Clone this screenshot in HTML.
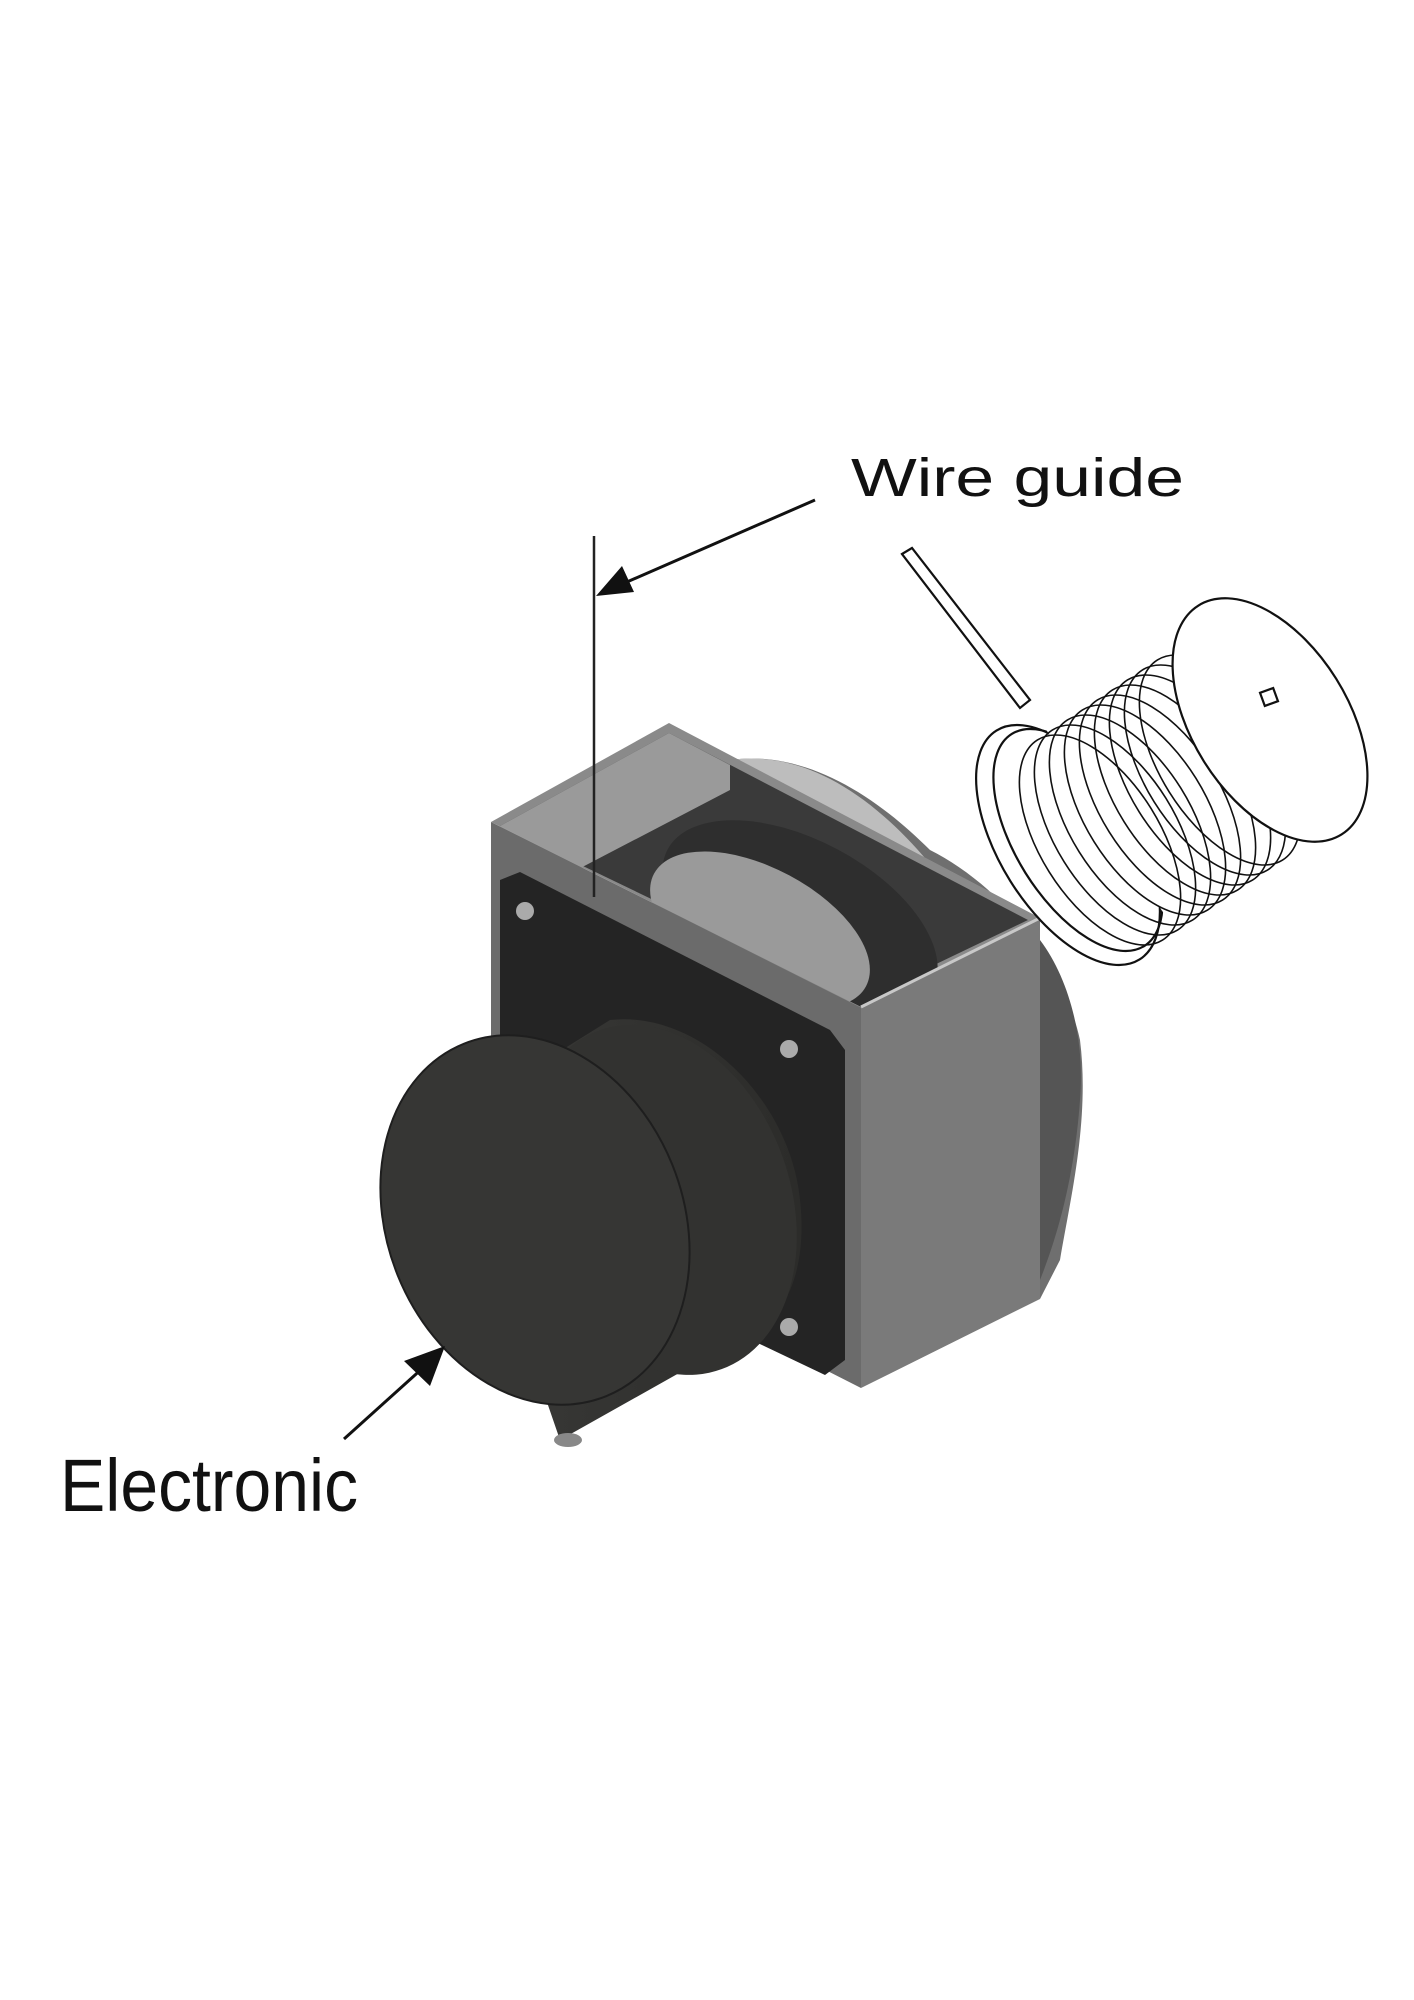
<!DOCTYPE html>
<html><head><meta charset="utf-8"><style>html,body{margin:0;padding:0;background:#fff}svg{display:block}</style></head>
<body>
<svg width="1414" height="2000" viewBox="0 0 1414 2000" xmlns="http://www.w3.org/2000/svg">
<defs>
<marker id="ah" viewBox="0 0 10 10" refX="9" refY="5" markerWidth="7" markerHeight="7" orient="auto" markerUnits="userSpaceOnUse">
</marker>
<linearGradient id="hous" x1="0" y1="0" x2="1" y2="1"><stop offset="0" stop-color="#cfcfcf"/><stop offset="1" stop-color="#8a8a8a"/></linearGradient>
<linearGradient id="cyl" x1="0" y1="0" x2="1" y2="0"><stop offset="0" stop-color="#3a3a38"/><stop offset="1" stop-color="#2c2c2a"/></linearGradient>
</defs>
<!-- housing behind -->
<path d="M730 760 C800 750 870 790 930 850 C990 880 1060 950 1080 1040 C1090 1120 1070 1200 1060 1260 L1040 1299 L1040 918 Z" fill="#6f6f6f"/>
<path d="M730 760 C800 750 870 790 935 870 L1040 918 L700 740 Z" fill="#bdbdbd"/>
<path d="M1040 940 C1070 980 1085 1040 1080 1100 C1075 1170 1060 1230 1040 1280 Z" fill="#555"/>
<!-- box top rim / back -->
<polygon points="491,822 669,723 1040,918 861,1007" fill="#8a8a8a"/>
<polygon points="500,826 669,733 1028,920 861,1000" fill="#3a3a3a"/>
<polygon points="669,733 730,765 730,790 500,910 500,826" fill="#9a9a9a"/>
<!-- drum in opening -->
<ellipse cx="800" cy="920" rx="150" ry="80" fill="#2e2e2e" transform="rotate(28 800 920)"/>
<ellipse cx="760" cy="930" rx="120" ry="62" fill="#9a9a9a" transform="rotate(28 760 930)"/>
<!-- left front face -->
<polygon points="491,822 861,1007 861,1388 491,1200" fill="#6b6b6b"/>
<polygon points="491,822 500,826 870,1012 861,1007" fill="#a0a0a0"/>
<!-- right face -->
<polygon points="861,1007 1040,918 1040,1299 861,1388" fill="#7a7a7a"/>
<line x1="861" y1="1007" x2="1040" y2="918" stroke="#c8c8c8" stroke-width="3"/>
<!-- black gasket plate -->
<polygon points="500,880 520,872 830,1030 845,1050 845,1360 825,1375 720,1325 500,1210" fill="#242424"/>
<!-- cylinder body -->
<path d="M450 1120 L610 1020 C700 1010 790 1100 800 1200 C810 1290 770 1340 720 1350 L560 1440 Z" fill="url(#cyl)"/>
<ellipse cx="660" cy="1200" rx="130" ry="180" fill="#323230" transform="rotate(-20 660 1200)"/>
<!-- cylinder face -->
<ellipse cx="535" cy="1220" rx="148" ry="190" fill="#363634" transform="rotate(-22 535 1220)"/>
<ellipse cx="535" cy="1220" rx="148" ry="190" fill="none" stroke="#1e1e1e" stroke-width="2" transform="rotate(-22 535 1220)"/>
<!-- connector bottom -->
<ellipse cx="568" cy="1440" rx="14" ry="7" fill="#888"/>
<!-- screws -->
<circle cx="525" cy="911" r="9" fill="#aaa"/>
<circle cx="789" cy="1049" r="9" fill="#aaa"/>
<circle cx="789" cy="1327" r="9" fill="#aaa"/>
<!-- wire -->
<line x1="594" y1="536" x2="594" y2="897" stroke="#222" stroke-width="2.5"/>
<!-- spool -->
<g fill="none" stroke="#111" stroke-width="2.2">
<path d="M902 554 L912 548 L1030 700 L1020 708 Z" fill="#fff"/>
<ellipse cx="1068" cy="845" rx="68" ry="135" transform="rotate(-32 1068 845)" fill="#fff"/>
<ellipse cx="1078" cy="840" rx="62" ry="125" transform="rotate(-32 1078 840)"/>
<path d="M1040 720 L1170 640 L1350 820 L1200 970 Z" fill="#fff" stroke="none"/>
<g stroke-width="1.6">
<ellipse cx="1100" cy="840" rx="60" ry="118" transform="rotate(-32 1100 840)"/>
<ellipse cx="1115" cy="830" rx="60" ry="118" transform="rotate(-32 1115 830)"/>
<ellipse cx="1130" cy="820" rx="60" ry="118" transform="rotate(-32 1130 820)"/>
<ellipse cx="1145" cy="810" rx="60" ry="118" transform="rotate(-32 1145 810)"/>
<ellipse cx="1160" cy="800" rx="60" ry="118" transform="rotate(-32 1160 800)"/>
<ellipse cx="1175" cy="790" rx="60" ry="118" transform="rotate(-32 1175 790)"/>
<ellipse cx="1190" cy="780" rx="60" ry="118" transform="rotate(-32 1190 780)"/>
<ellipse cx="1205" cy="770" rx="60" ry="118" transform="rotate(-32 1205 770)"/>
<ellipse cx="1220" cy="760" rx="60" ry="118" transform="rotate(-32 1220 760)"/>
</g>
<ellipse cx="1270" cy="720" rx="78" ry="135" transform="rotate(-32 1270 720)" fill="#fff"/>
<rect x="1262" y="690" width="14" height="14" transform="rotate(-20 1269 697)"/>
</g>
<!-- callout arrows -->
<line x1="815" y1="500" x2="620" y2="585" stroke="#111" stroke-width="3"/>
<polygon points="596,596 622,566 634,592" fill="#111"/>
<line x1="344" y1="1439" x2="425" y2="1366" stroke="#111" stroke-width="3"/>
<polygon points="445,1346 430,1386 404,1361" fill="#111"/>
<!-- labels -->
<text x="851" y="496" font-family="Liberation Sans, Arial, sans-serif" font-size="54" fill="#111" textLength="333" lengthAdjust="spacingAndGlyphs">Wire guide</text>
<text x="60" y="1511" font-family="Liberation Sans, Arial, sans-serif" font-size="74" fill="#111" textLength="298" lengthAdjust="spacingAndGlyphs">Electronic</text>
</svg>
</body></html>
